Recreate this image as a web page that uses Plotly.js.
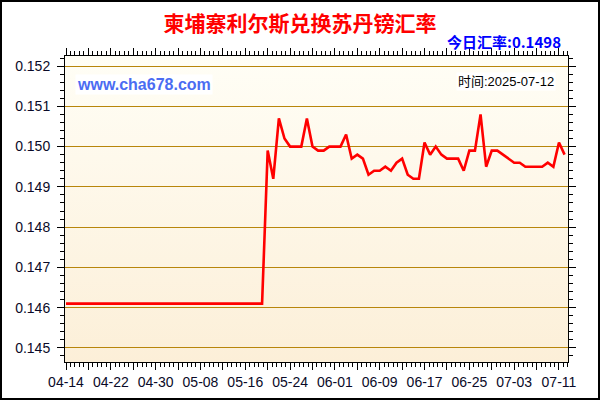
<!DOCTYPE html>
<html>
<head>
<meta charset="utf-8">
<script src="https://cdn.plot.ly/plotly-3.0.1.min.js"></script>
<style>
  body { margin: 0; background: #fff; }
  #wrap { position: relative; width: 600px; height: 400px; }
  #plot-area {
    width: 600px; height: 400px;
    background: linear-gradient(#fffef6, #fcefd8) 65px 56px / 503px 306px no-repeat, #fff;
  }
  #frame {
    position: absolute; left: 0; top: 0; width: 600px; height: 400px;
    box-sizing: border-box; border: 2px solid #000; pointer-events: none;
  }
</style>
</head>
<body>
<div id="wrap">
  <div id="plot-area"></div>
  <div id="frame"></div>
</div>
<script>
const days = [
  "2025-04-14", "2025-04-15", "2025-04-16", "2025-04-17", "2025-04-18", "2025-04-19", "2025-04-20",
  "2025-04-21", "2025-04-22", "2025-04-23", "2025-04-24", "2025-04-25", "2025-04-26", "2025-04-27",
  "2025-04-28", "2025-04-29", "2025-04-30", "2025-05-01", "2025-05-02", "2025-05-03", "2025-05-04",
  "2025-05-05", "2025-05-06", "2025-05-07", "2025-05-08", "2025-05-09", "2025-05-10", "2025-05-11",
  "2025-05-12", "2025-05-13", "2025-05-14", "2025-05-15", "2025-05-16", "2025-05-17", "2025-05-18",
  "2025-05-19", "2025-05-20", "2025-05-21", "2025-05-22", "2025-05-23", "2025-05-24", "2025-05-25",
  "2025-05-26", "2025-05-27", "2025-05-28", "2025-05-29", "2025-05-30", "2025-05-31", "2025-06-01",
  "2025-06-02", "2025-06-03", "2025-06-04", "2025-06-05", "2025-06-06", "2025-06-07", "2025-06-08",
  "2025-06-09", "2025-06-10", "2025-06-11", "2025-06-12", "2025-06-13", "2025-06-14", "2025-06-15",
  "2025-06-16", "2025-06-17", "2025-06-18", "2025-06-19", "2025-06-20", "2025-06-21", "2025-06-22",
  "2025-06-23", "2025-06-24", "2025-06-25", "2025-06-26", "2025-06-27", "2025-06-28", "2025-06-29",
  "2025-06-30", "2025-07-01", "2025-07-02", "2025-07-03", "2025-07-04", "2025-07-05", "2025-07-06",
  "2025-07-07", "2025-07-08", "2025-07-09", "2025-07-10", "2025-07-11", "2025-07-12"
]

const rates = [
  0.1461, 0.1461, 0.1461, 0.1461, 0.1461, 0.1461, 0.1461,
  0.1461, 0.1461, 0.1461, 0.1461, 0.1461, 0.1461, 0.1461,
  0.1461, 0.1461, 0.1461, 0.1461, 0.1461, 0.1461, 0.1461,
  0.1461, 0.1461, 0.1461, 0.1461, 0.1461, 0.1461, 0.1461,
  0.1461, 0.1461, 0.1461, 0.1461, 0.1461, 0.1461, 0.1461,
  0.1461, 0.1499, 0.1492, 0.1507, 0.1502, 0.1500, 0.1500,
  0.1500, 0.1507, 0.1500, 0.1499, 0.1499, 0.1500, 0.1500,
  0.1500, 0.1503, 0.1497, 0.1498, 0.1497, 0.1493, 0.1494,
  0.1494, 0.1495, 0.1494, 0.1496, 0.1497, 0.1493, 0.1492,
  0.1492, 0.1501, 0.1498, 0.1500, 0.1498, 0.1497, 0.1497,
  0.1497, 0.1494, 0.1499, 0.1499, 0.1508, 0.1495, 0.1499,
  0.1499, 0.1498, 0.1497, 0.1496, 0.1496, 0.1495, 0.1495,
  0.1495, 0.1495, 0.1496, 0.1495, 0.1501, 0.1498
]

// ticks every 4 days, label only every 8 days
const xTickVals = [
  "2025-04-14", "2025-04-18", "2025-04-22", "2025-04-26", "2025-04-30", "2025-05-04",
  "2025-05-08", "2025-05-12", "2025-05-16", "2025-05-20", "2025-05-24", "2025-05-28",
  "2025-06-01", "2025-06-05", "2025-06-09", "2025-06-13", "2025-06-17", "2025-06-21",
  "2025-06-25", "2025-06-29", "2025-07-03", "2025-07-07", "2025-07-11"
]
const xTickText = [
  "04-14", "", "04-22", "", "04-30", "",
  "05-08", "", "05-16", "", "05-24", "",
  "06-01", "", "06-09", "", "06-17", "",
  "06-25", "", "07-03", "", "07-11"
]

const title = "柬埔寨利尔斯兑换苏丹镑汇率"
const todayRate = "今日汇率:0.1498"
const siteName = "www.cha678.com"
const updated = "时间:2025-07-12"

const tickFont = {family: "Liberation Sans, Arial, sans-serif", size: 14, color: "#0a0a28"}

const line = {
  x: days,
  y: rates,
  type: "scatter",
  mode: "lines",
  line: {color: "#ff0000", width: 2.6},
  hoverinfo: "x+y"
}

const layout = {
  width: 600,
  height: 400,
  margin: {l: 65, r: 32, t: 56, b: 38},
  paper_bgcolor: "rgba(0,0,0,0)",
  plot_bgcolor: "rgba(0,0,0,0)",
  showlegend: false,
  title: {
    text: "<b>" + title + "</b>",
    x: 0.5, xref: "container", xanchor: "center",
    y: 0.94, yref: "container", yanchor: "middle",
    font: {family: "Noto Sans CJK SC, sans-serif", size: 21, color: "#ff0000"}
  },
  xaxis: {
    type: "date",
    range: ["2025-04-13 19:40", "2025-07-12 14:40"],
    tickmode: "array",
    tickvals: xTickVals,
    ticktext: xTickText,
    ticks: "outside",
    ticklen: 7,
    tickcolor: "#000",
    tickfont: tickFont,
    minor: {ticks: "outside", ticklen: 4, dtick: 69120000, tick0: "2025-04-14", tickcolor: "#000"},
    showline: true,
    linecolor: "#000",
    linewidth: 1,
    mirror: "allticks",
    showgrid: false,
    zeroline: false,
    fixedrange: true
  },
  yaxis: {
    range: [0.14465, 0.15225],
    tick0: 0.145,
    dtick: 0.001,
    tickformat: ".3f",
    ticks: "outside",
    ticklen: 7,
    tickcolor: "#000",
    tickfont: tickFont,
    ticklabelstandoff: 4,
    minor: {ticks: "outside", ticklen: 4, dtick: 0.0002, tickcolor: "#000"},
    showline: true,
    linecolor: "#000",
    linewidth: 1,
    mirror: "allticks",
    showgrid: true,
    gridcolor: "#b8860b",
    gridwidth: 1,
    zeroline: false,
    fixedrange: true
  },
  annotations: [
    {
      text: "<b>" + todayRate + "</b>",
      xref: "paper", yref: "paper",
      x: 0.99, y: 1.046, xanchor: "right", yanchor: "middle",
      showarrow: false,
      font: {family: "Noto Sans CJK SC, sans-serif", size: 15, color: "#0000ff"}
    },
    {
      text: "<b>" + siteName + "</b>",
      xref: "paper", yref: "paper",
      x: 0.02, y: 0.908, xanchor: "left", yanchor: "middle",
      showarrow: false,
      bgcolor: "#ffffff",
      font: {family: "Liberation Sans, Arial, sans-serif", size: 16, color: "#4b6cf2"}
    },
    {
      text: updated,
      xref: "paper", yref: "paper",
      x: 0.976, y: 0.918, xanchor: "right", yanchor: "middle",
      showarrow: false,
      bgcolor: "#ffffff",
      font: {family: "Liberation Sans, Noto Sans CJK SC, sans-serif", size: 13, color: "#000"}
    }
  ]
}

Plotly.newPlot("plot-area", [line], layout, {displayModeBar: false, staticPlot: true})
</script>
</body>
</html>
